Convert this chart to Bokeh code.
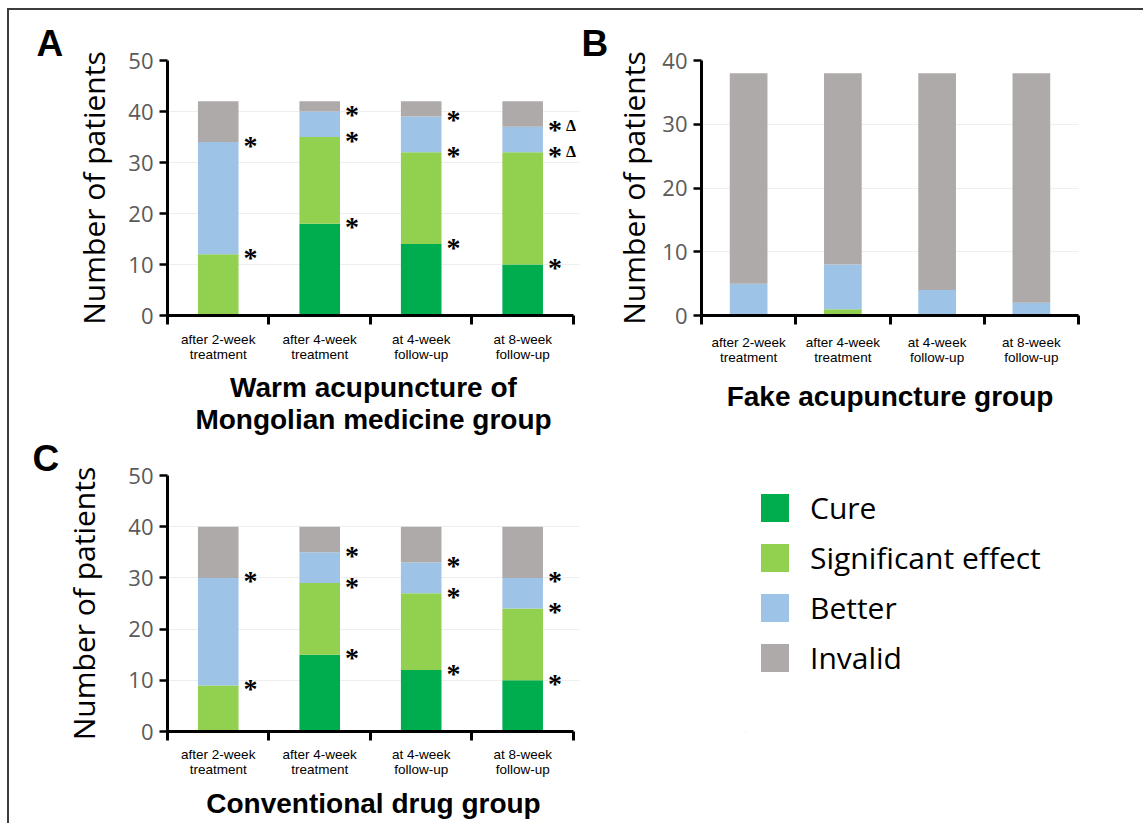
from bokeh.plotting import figure
from bokeh.models import (FixedTicker, Legend, LegendItem, ColumnDataSource, Range1d, LabelSet)
from bokeh.layouts import column, row
from bokeh.embed import file_html
from bokeh.resources import INLINE

# ---------------- data ----------------
categories = ["after 2-week\ntreatment", "after 4-week\ntreatment",
              "at 4-week\nfollow-up", "at 8-week\nfollow-up"]
series = ["Cure", "Significant effect", "Better", "Invalid"]
colors = ["#00AD4E", "#92D050", "#9DC3E6", "#AEAAAA"]

a_cure = [0, 18, 14, 10]
a_sig = [12, 17, 18, 22]
a_better = [22, 5, 7, 5]
a_invalid = [8, 2, 3, 5]

b_cure = [0, 0, 0, 0]
b_sig = [0, 1, 0, 0]
b_better = [5, 7, 4, 2]
b_invalid = [33, 30, 34, 36]

c_cure = [0, 15, 12, 10]
c_sig = [9, 14, 15, 14]
c_better = [21, 6, 6, 6]
c_invalid = [10, 5, 7, 10]

# significance marks: "*" at each non-zero boundary below the top; "Δ" on listed bars/series
a_delta = {3: ["Significant effect", "Better"]}

BAR_W = 0.4
LABEL_FONT = "Open Sans"
TICK_FONT = "Liberation Sans"


def make_panel(letter, letter_dx, cure, sig, better, invalid, ymax, group_title,
               width, height, mb_left, mb_right, mb_top, mb_bottom, x_pad=0.0,
               stars=True, deltas=None, tick_standoff=8, title_standoff=9, ylab_standoff=15):
    n = len(categories)
    x = [i + 0.5 for i in range(n)]
    src = ColumnDataSource(dict(x=x, **{series[0]: cure, series[1]: sig,
                                        series[2]: better, series[3]: invalid}))
    p = figure(width=width, height=height, x_range=Range1d(0, n + x_pad),
               y_range=Range1d(0, ymax), output_backend="svg", toolbar_location=None,
               min_border_left=mb_left, min_border_right=mb_right,
               min_border_top=mb_top, min_border_bottom=mb_bottom)
    p.vbar_stack(series, x="x", width=BAR_W, color=colors, line_color=None, source=src)

    # significance marks
    if stars:
        sx, sy, dx, dy = [], [], [], []
        for i in range(n):
            levels = {"Cure": cure[i], "Significant effect": cure[i] + sig[i],
                      "Better": cure[i] + sig[i] + better[i]}
            prev = 0
            for s in series[:3]:
                lv = levels[s]
                if lv > prev:
                    sx.append(x[i] + BAR_W / 2)
                    sy.append(lv)
                    if deltas and i in deltas and s in deltas[i]:
                        dx.append(x[i] + BAR_W / 2)
                        dy.append(lv)
                prev = max(prev, lv)
        star_src = ColumnDataSource(dict(x=sx, y=sy, t=["*"] * len(sx)))
        p.add_layout(LabelSet(x="x", y="y", text="t", source=star_src,
                              text_font="DejaVu Sans", text_font_style="bold",
                              text_font_size="28px", text_align="left",
                              text_baseline="middle", x_offset=5, y_offset=-3,
                              text_color="black"))
        if dx:
            d_src = ColumnDataSource(dict(x=dx, y=dy, t=["\u0394"] * len(dx)))
            p.add_layout(LabelSet(x="x", y="y", text="t", source=d_src,
                                  text_font="DejaVu Sans", text_font_style="bold",
                                  text_font_size="16px", text_align="left",
                                  text_baseline="middle", x_offset=23, y_offset=1,
                                  text_color="black"))

    # panel letter as the plot title
    p.title.text = letter
    p.title.text_font = "Liberation Sans"
    p.title.text_font_size = "37px"
    p.title.text_font_style = "bold"
    p.title.text_color = "black"
    p.title.align = "left"
    p.title.offset = letter_dx
    try:
        p.title.standoff = -7
    except Exception:
        p.title.standoff = 0

    # y axis
    ya = p.yaxis[0]
    ya.ticker = FixedTicker(ticks=list(range(0, ymax + 1, 10)), minor_ticks=[])
    ya.axis_line_width = 3
    ya.major_tick_line_width = 2.5
    ya.major_tick_out = 8
    ya.major_tick_in = 0
    ya.minor_tick_line_color = None
    ya.major_label_text_font = LABEL_FONT
    ya.major_label_text_font_size = "22px"
    ya.major_label_text_color = "#5a5a5a"
    ya.major_label_standoff = 6
    ya.axis_label = "Number of patients"
    ya.axis_label_text_font = LABEL_FONT
    ya.axis_label_text_font_size = "30px"
    ya.axis_label_text_font_style = "normal"
    ya.axis_label_text_color = "black"
    ya.axis_label_standoff = ylab_standoff

    # x axis: labels centred, tick marks at category boundaries
    xa = p.xaxis[0]
    xa.bounds = (0, n)
    xa.ticker = FixedTicker(ticks=x, minor_ticks=list(range(n + 1)))
    xa.major_label_overrides = {xi: c for xi, c in zip(x, categories)}
    xa.axis_line_width = 3
    xa.major_tick_line_color = None
    xa.major_tick_out = 8
    xa.major_tick_in = 0
    xa.minor_tick_line_color = "black"
    xa.minor_tick_line_width = 3
    xa.minor_tick_out = 9
    xa.minor_tick_in = 0
    xa.major_label_text_font = TICK_FONT
    xa.major_label_text_font_size = "13.5px"
    xa.major_label_text_color = "black"
    xa.major_label_standoff = tick_standoff
    xa.major_label_text_line_height = 1.0
    xa.axis_label = group_title
    xa.axis_label_text_font = "Liberation Sans"
    xa.axis_label_text_font_size = "28px"
    xa.axis_label_text_font_style = "bold"
    xa.axis_label_text_color = "black"
    xa.axis_label_text_line_height = 1.05
    xa.axis_label_standoff = title_standoff

    p.xgrid.visible = False
    p.ygrid.grid_line_color = "#eeeeee"
    p.ygrid.ticker = ya.ticker
    p.outline_line_color = None
    return p


pA = make_panel("A", -131, a_cure, a_sig, a_better, a_invalid, 50,
                "Warm acupuncture of\nMongolian medicine group",
                572, 428, 158, 2, 50, 122, x_pad=0.06, stars=True, deltas=a_delta,
                tick_standoff=7, title_standoff=7, ylab_standoff=11)
pB = make_panel("B", -120, b_cure, b_sig, b_better, b_invalid, 40,
                "Fake acupuncture group",
                562, 428, 120, 65, 50, 122, stars=False,
                tick_standoff=10, title_standoff=13, ylab_standoff=5)
pC = make_panel("C", -135, c_cure, c_sig, c_better, c_invalid, 50,
                "Conventional drug group",
                572, 385, 158, 2, 37, 92, x_pad=0.06, stars=True,
                tick_standoff=6, title_standoff=8, ylab_standoff=21)

# legend panel (legend renderers hold one dummy bar that lies outside the visible range)
pL = figure(width=562, height=385, x_range=Range1d(0, 1), y_range=Range1d(0, 1),
            output_backend="svg", toolbar_location=None,
            x_axis_location=None, y_axis_location=None,
            min_border_left=164, min_border_top=37, min_border_right=0, min_border_bottom=92)
pL.grid.visible = False
pL.outline_line_color = None
items = []
for s, c in zip(series, colors):
    r = pL.vbar(x=[-5], top=[-5], bottom=[-6], width=0.1, fill_color=c, line_color=None)
    items.append(LegendItem(label=s, renderers=[r]))
legend = Legend(items=items, location="top_left", margin=12, padding=0, spacing=9,
                glyph_width=35, glyph_height=35, label_standoff=18,
                label_text_font=LABEL_FONT, label_text_font_size="30px",
                label_text_color="black", border_line_color=None,
                background_fill_alpha=0)
pL.add_layout(legend, "center")

layout = column(row(pA, pB), row(pC, pL),
                styles={"border-top": "2px solid #3c3c3c", "border-left": "2px solid #3c3c3c",
                        "margin-left": "7px", "margin-top": "8px"})

open("out.html", "w").write(file_html(layout, INLINE))
